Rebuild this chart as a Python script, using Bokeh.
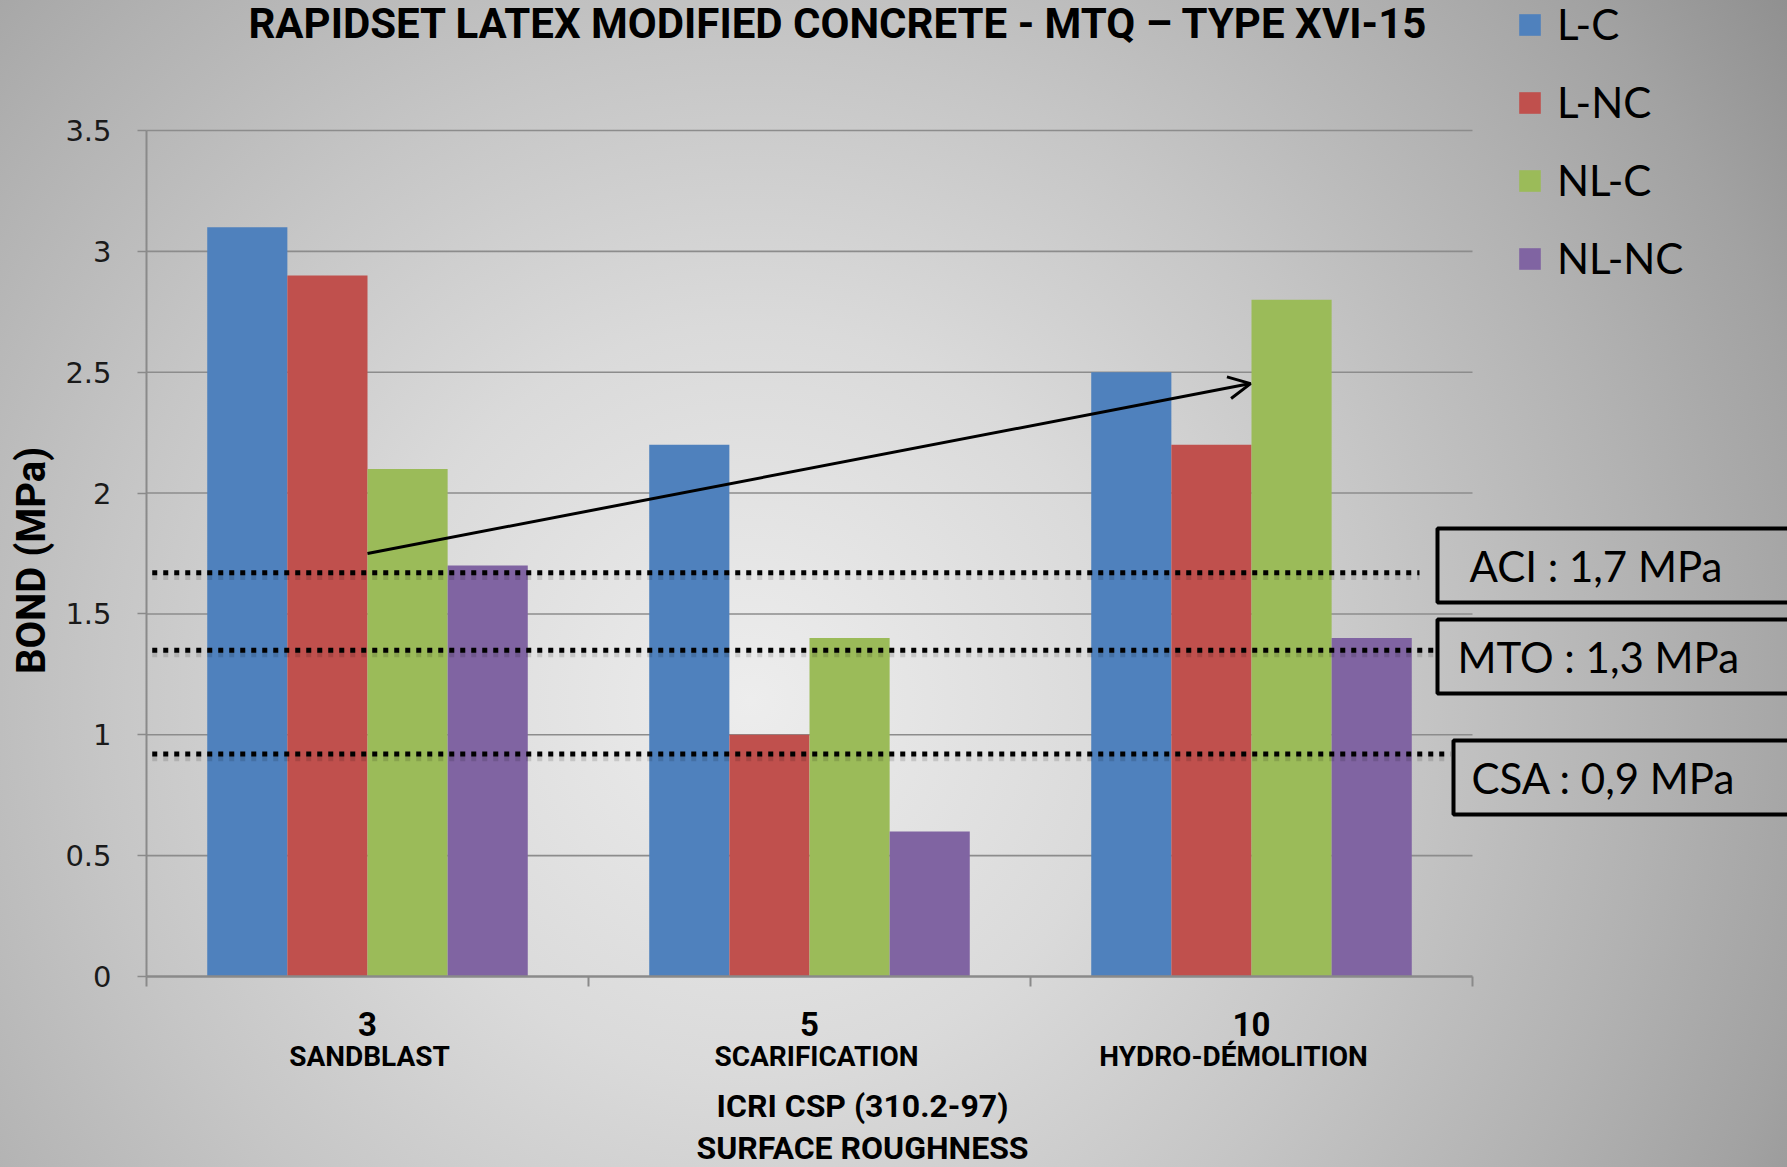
import math
from bokeh.plotting import figure
from bokeh.models import (Range1d, FixedTicker, NumeralTickFormatter, Label, Arrow,
                          OpenHead, Legend, LegendItem)
from bokeh.embed import file_html
from bokeh.resources import INLINE

# ---------------- data ----------------
categories = ["3", "5", "10"]
category_names = ["SANDBLAST", "SCARIFICATION", "HYDRO-DÉMOLITION"]
series = ["L-C", "L-NC", "NL-C", "NL-NC"]
lc = [3.1, 2.2, 2.5]
lnc = [2.9, 1.0, 2.2]
nlc = [2.1, 1.4, 2.8]
nlnc = [1.7, 0.6, 1.4]
values = [lc, lnc, nlc, nlnc]
colors = ["#4F81BD", "#C0504D", "#9BBB59", "#8064A2"]
y_ticks = [0, 0.5, 1, 1.5, 2, 2.5, 3, 3.5]
ref_names = ["ACI : 1,7 MPa", "MTO : 1,3 MPa", "CSA : 0,9 MPa"]
ref_levels = [1.67, 1.35, 0.92]          # where the dotted lines are drawn
ref_line_end = [2.88, 2.914, 2.95]
arrow_start = (0.5, 1.75)
arrow_end = (2.498, 2.453)

title = "RAPIDSET LATEX MODIFIED CONCRETE - MTQ – TYPE XVI-15"
x_title = ["ICRI CSP (310.2-97)", "SURFACE ROUGHNESS"]
y_title = "BOND  (MPa)"

# ---------------- layout helpers ----------------
W, H = 1787, 1167
FL, FR, FT, FB = 146, 1472, 130, 976      # pixel box of the value area
XMAX, YMAX = 3.0, 3.5


def dx(px):
    return (px - FL) / (FR - FL) * XMAX


def dy(py):
    return (FB - py) / (FB - FT) * YMAX


HEAD = "Roboto"
BODY = "Lato"

p = figure(width=W, height=H, x_range=Range1d(dx(0), dx(W)), y_range=Range1d(dy(H), dy(0)),
           output_backend="svg", toolbar_location=None, min_border=0)
p.border_fill_alpha = 0
p.background_fill_alpha = 0
p.outline_line_color = None
p.styles = {"background": "radial-gradient(circle farthest-corner at 42% 60%, #ededed 0%, "
                          "#dadada 30%, #c6c6c6 52%, #b2b2b2 72%, #a2a2a2 87%, #909090 100%)"}
p.xgrid.visible = False
p.ygrid.visible = False

# axes (fixed inside the frame so that the frame can cover the whole canvas)
xa = p.xaxis[0]
xa.fixed_location = 0
xa.bounds = (0, XMAX)
xa.ticker = FixedTicker(ticks=[0, 1, 2, 3])
xa.major_label_overrides = {0: "", 1: "", 2: "", 3: ""}
xa.major_tick_out = 10
xa.major_tick_in = 0
xa.minor_tick_line_color = None
xa.axis_line_color = "#8a8a8a"
xa.axis_line_width = 2.5
xa.major_tick_line_color = "#8a8a8a"
xa.major_tick_line_width = 2

ya = p.yaxis[0]
ya.fixed_location = 0
ya.bounds = (0, YMAX)
ya.ticker = FixedTicker(ticks=y_ticks)
ya.formatter = NumeralTickFormatter(format="0.[0]")
ya.major_tick_out = 9
ya.major_tick_in = 0
ya.minor_tick_line_color = None
ya.axis_line_color = "#8a8a8a"
ya.axis_line_width = 2
ya.major_tick_line_color = "#8a8a8a"
ya.major_tick_line_width = 1.5
ya.major_label_standoff = 26
ya.major_label_text_font = "DejaVu Sans"
ya.major_label_text_font_size = "29px"
ya.major_label_text_color = "#1a1a1a"

# horizontal grid lines at the tick values, limited to the value area
gy = [t for t in y_ticks if t > 0]
p.segment(x0=[0] * len(gy), x1=[XMAX] * len(gy), y0=gy, y1=gy,
          line_color="#8c8c8c", line_width=1.6)

# bars
bw = 0.1813
renderers = []
for k, (vals, col) in enumerate(zip(values, colors)):
    xs = [i + 0.5 + (k - 1.5) * bw for i in range(len(categories))]
    r = p.vbar(x=xs, top=vals, width=bw, fill_color=col, line_color=None)
    renderers.append(r)

# dotted reference lines (with a faint shadow)
p.segment(x0=[0.013] * 3, x1=ref_line_end, y0=[v - 0.013 for v in ref_levels],
          y1=[v - 0.013 for v in ref_levels], line_color="black", line_alpha=0.13,
          line_width=8, line_dash="5 6")
p.segment(x0=[0.013] * 3, x1=ref_line_end, y0=ref_levels, y1=ref_levels,
          line_color="black", line_width=5, line_dash="5 6")

# arrow
p.add_layout(Arrow(end=OpenHead(size=22, line_width=3, line_color="black"),
                   x_start=arrow_start[0], y_start=arrow_start[1],
                   x_end=arrow_end[0], y_end=arrow_end[1],
                   line_width=3, line_color="black"))

# reference boxes
box_left = [1437, 1437, 1453]
box_mid = [565, 656, 777]
box_pad = [32, 20, 18]
for name, bl, bm, pl in zip(ref_names, box_left, box_mid, box_pad):
    p.add_layout(Label(x=dx(bl), y=dy(bm), text=name, text_font=BODY,
                       text_font_size="42px", text_color="black",
                       text_align="left", text_baseline="middle",
                       border_line_color="black", border_line_width=4,
                       padding=dict(left=pl, right=300, top=12, bottom=12)))

# legend
items = [LegendItem(label=s, renderers=[r]) for s, r in zip(series, renderers)]
legend = Legend(items=items, location=(1516, H - 283),
                glyph_width=27, glyph_height=27, label_text_font=BODY,
                label_text_font_size="42px", label_text_color="black",
                label_standoff=14, spacing=28,
                padding=0, margin=0, border_line_color=None,
                background_fill_alpha=0, label_height=50)
p.add_layout(legend, "center")

# title
p.add_layout(Label(x=dx(838), y=dy(23), text=title, text_font=HEAD,
                   text_font_style="bold", text_font_size="42px", text_color="black",
                   text_align="center", text_baseline="middle"))

# y title
p.add_layout(Label(x=dx(31), y=dy(555), text=y_title, text_font=HEAD,
                   text_font_style="bold", text_font_size="40px", text_color="black",
                   text_align="center", text_baseline="middle", angle=math.pi / 2))

# category labels
name_x = [369, 816, 1233]
for i, (c, nm) in enumerate(zip(categories, category_names)):
    p.add_layout(Label(x=i + 0.5, y=dy(1023), text=c, text_font=HEAD,
                       text_font_style="bold", text_font_size="33px", text_color="black",
                       text_align="center", text_baseline="middle"))
    p.add_layout(Label(x=dx(name_x[i]), y=dy(1056), text=nm, text_font=HEAD,
                       text_font_style="bold", text_font_size="28px", text_color="black",
                       text_align="center", text_baseline="middle"))

# x title
for line, yy in zip(x_title, [1105, 1147]):
    p.add_layout(Label(x=dx(862), y=dy(yy), text=line, text_font=HEAD,
                       text_font_style="bold", text_font_size="32px", text_color="black",
                       text_align="center", text_baseline="middle"))

open("out.html", "w").write(file_html(p, INLINE))
